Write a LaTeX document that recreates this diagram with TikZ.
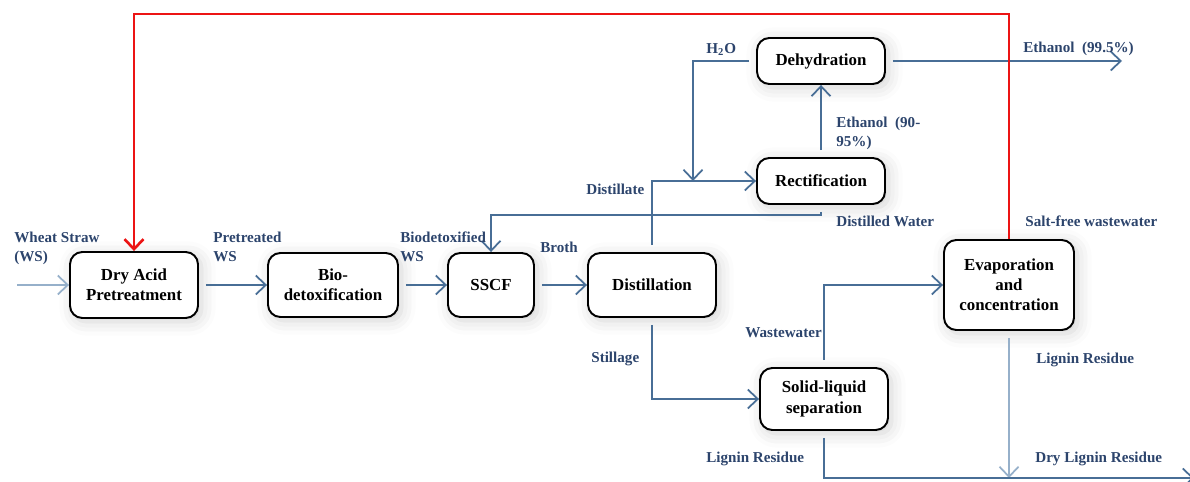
\documentclass[tikz,border=0pt]{standalone}
\usepackage{fontspec}
\setmainfont{Liberation Serif}
\usetikzlibrary{arrows.meta,shadows.blur}
\definecolor{flowblue}{RGB}{72,110,150}
\definecolor{flowpale}{RGB}{150,176,202}
\definecolor{lblblue}{RGB}{44,68,108}
\definecolor{loopred}{RGB}{236,20,20}

\begin{document}
\begin{tikzpicture}[x=.02cm,y=-.02cm,
 unit/.style={draw,line width=1.1pt,rounded corners=7pt,fill=white,minimum width=2.56cm,
   minimum height=1.28cm,align=center,font=\fontsize{9.6}{11.5}\selectfont\bfseries,
   blur shadow={shadow xshift=2pt,shadow yshift=-2pt,shadow opacity=18,shadow blur radius=8pt}},
 flow/.style={line width=1pt,draw=flowblue,shorten <=4pt,-{Straight Barb[length=2mm,width=3.8mm]}},
 lbl/.style={anchor=north west,inner sep=0pt,text=lblblue,align=left,
   font=\fontsize{8.6}{10.4}\selectfont\bfseries}]
 \useasboundingbox (0,0) rectangle (1190,482);
 % process units
 \node[unit,minimum height=1.32cm] (dap) at (134,285) {Dry Acid\\Pretreatment};
 \node[unit,minimum width=2.6cm] (bio) at (333,285) {Bio-\\detoxification};
 \node[unit,minimum width=1.72cm] (sscf) at (491,285) {SSCF};
 \node[unit] (dist) at (652,285) {Distillation};
 \node[unit,minimum height=.92cm] (dehy) at (821,61) {Dehydration};
 \node[unit,minimum height=.92cm] (rect) at (821,181) {Rectification};
 \node[unit,minimum width=2.6cm,minimum height=1.8cm] (evap) at (1009,285) {Evaporation\\and\\concentration};
 \node[unit,minimum height=1.24cm] (slsep) at (824,399) {Solid-liquid\\separation};
 % free ends
 \coordinate (wsin) at (10,285);
 \coordinate (h2oin) at (693,181);
 \coordinate (ethout) at (1122,61);
 \coordinate (ligout) at (1194,478);
 % streams
 \draw[flow,draw=flowpale] (wsin) -- (dap);
 \draw[flow] (dap) -- (bio);
 \draw[flow] (bio) -- (sscf);
 \draw[flow] (sscf) -- (dist);
 \draw[flow] (dist.north) |- (rect.west);
 \draw[flow] (dehy.west) -| (h2oin);
 \draw[flow] (rect) -- (dehy);
 \draw[flow] (dehy) -- (ethout);
 \draw[flow] (rect.south) -- ++(0,10) -| (sscf.north);
 \draw[flow] (dist.south) |- (slsep.west);
 \draw[flow] (slsep.north) |- (evap.west);
 \draw[flow,draw=loopred,line width=1.5pt,shorten <=0pt] (evap.north) -- ++(0,-225) -| (dap.north);
 \draw[flow,draw=flowpale] (evap.south) -- (evap.south |- ligout);
 \draw[flow] (slsep.south) |- (ligout);
 % stream labels
 \node[lbl] (lws) at (14,232) {Wheat Straw\\(WS)};
 \node[lbl] (lpre) at (213,232) {Pretreated\\WS};
 \node[lbl] (lbiod) at (400,232) {Biodetoxified\\WS};
 \node[lbl] (lbroth) at (540,242) {Broth};
 \node[lbl] (ldist) at (586,184) {Distillate};
 \node[lbl] (lh2o) at (706,43) {H$_\mathbf{2}$O};
 \node[lbl] (leth1) at (836,117) {Ethanol\ \ (90-\\95\%)};
 \node[lbl] (leth2) at (1023,42) {Ethanol\ \ (99.5\%)};
 \node[lbl] (ldw) at (836,216) {Distilled Water};
 \node[lbl] (lsfw) at (1025,216) {Salt-free wastewater};
 \node[lbl] (lww) at (745,327) {Wastewater};
 \node[lbl] (lstil) at (591,352) {Stillage};
 \node[lbl] (llig1) at (1036,353) {Lignin Residue};
 \node[lbl] (llig2) at (706,452) {Lignin Residue};
 \node[lbl] (ldry) at (1035,452) {Dry Lignin Residue};
\end{tikzpicture}
\end{document}
